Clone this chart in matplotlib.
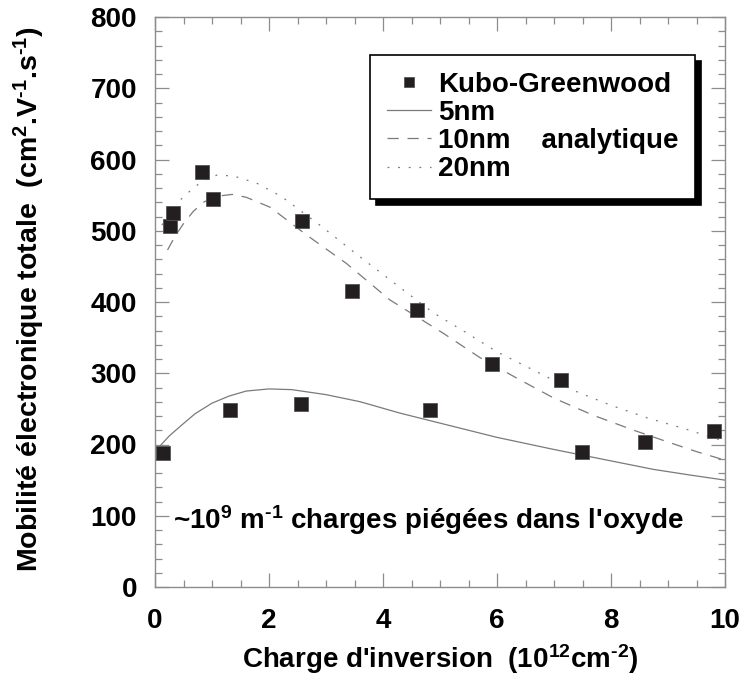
import matplotlib
matplotlib.use("Agg")
import matplotlib.pyplot as plt
from matplotlib.ticker import MultipleLocator

plt.rcParams['font.family'] = ['Liberation Sans', 'DejaVu Sans']
plt.rcParams['font.weight'] = 'bold'
plt.rcParams['mathtext.fontset'] = 'custom'
plt.rcParams['mathtext.rm'] = 'Liberation Sans:bold'
plt.rcParams['mathtext.it'] = 'Liberation Sans:bold:italic'
plt.rcParams['mathtext.bf'] = 'Liberation Sans:bold'
plt.rcParams['mathtext.default'] = 'rm'

# Kubo-Greenwood computed mobility
kg_q = [0.14, 0.26, 0.31, 0.83, 1.01, 2.58, 3.46, 4.60, 1.32, 2.57, 4.83,
        5.91, 7.12, 7.49, 8.60, 9.80]
kg_mu = [188, 507, 525, 583, 545, 514, 415, 389, 248, 257, 248,
         313, 291, 189, 203, 219]

# Analytical model, 5 nm
q_5 = [0.10, 0.25, 0.45, 0.70, 1.00, 1.30, 1.60, 2.00, 2.40, 3.00, 3.60,
       4.30, 5.20, 6.00, 7.00, 8.00, 8.75, 9.40, 10.0]
mu_5 = [199, 212, 226, 243, 258, 268, 275, 278, 277, 270, 260,
        244, 226, 210, 193, 177, 165, 157, 150]

# Analytical model, 10 nm
q_10 = [0.22, 0.35, 0.50, 0.67, 0.85, 1.05, 1.35, 1.60, 2.02, 2.66, 3.36,
        4.12, 5.06, 5.70, 6.35, 7.00, 7.69, 8.40, 8.98, 9.50, 10.0]
mu_10 = [473, 492, 510, 527, 540, 548, 551, 547, 533, 494, 454,
         403, 356, 322, 293, 265, 241, 220, 204, 190, 178]

# Analytical model, 20 nm
q_20 = [0.12, 0.25, 0.44, 0.70, 0.90, 1.08, 1.37, 1.78, 2.22, 2.89, 3.57,
        4.24, 4.88, 5.50, 6.00, 6.70, 7.34, 8.00, 8.65, 9.30, 9.80, 10.0]
mu_20 = [508, 522, 543, 562, 572, 578, 577, 567, 548, 508, 465,
         424, 385, 355, 330, 302, 276, 255, 237, 222, 209, 205]

fig = plt.figure(figsize=(7.42, 6.80), dpi=100)
ax = fig.add_axes([155/742, 1 - 587/680, 570/742, 570/680])

curve_color = '#7a7a7a'
ax.plot(q_5, mu_5, color=curve_color, lw=0.9, ls='-', label='5nm')
ax.plot(q_10, mu_10, color=curve_color, lw=0.9, ls=(0, (9, 7)), label='10nm    analytique')
ax.plot(q_20, mu_20, color=curve_color, lw=0.9, ls=(0, (1.5, 7)), label='20nm')
ax.plot(kg_q, kg_mu, ls='none', marker='s', ms=9.5, color='#231f20',
        mec='#555555', mew=0.6, label='Kubo-Greenwood', zorder=5)

ax.set_xlim(0, 10)
ax.set_ylim(0, 800)
ax.xaxis.set_major_locator(MultipleLocator(2))
ax.xaxis.set_minor_locator(MultipleLocator(0.5))
ax.yaxis.set_major_locator(MultipleLocator(100))
ax.yaxis.set_minor_locator(MultipleLocator(20))
spine_color = '#8c8c8c'
for s in ax.spines.values():
    s.set_color(spine_color)
    s.set_linewidth(1.0)
ax.tick_params(which='both', direction='in', top=True, right=True,
               color=spine_color, width=0.9)
ax.tick_params(which='major', length=10, labelsize=20)
ax.tick_params(axis='x', which='major', pad=15)
ax.tick_params(axis='y', which='major', pad=13)
ax.tick_params(which='minor', length=5)
for lab in ax.get_xticklabels() + ax.get_yticklabels():
    lab.set_fontweight('bold')

ax.set_xlabel(r"Charge d'inversion  (10$^{12}$cm$^{\text{-}2}$)", fontsize=20,
              fontweight='bold', labelpad=6)
ax.set_ylabel(r"Mobilité électronique totale  (cm$^{2}$.V$^{\text{-}1}$.s$^{\text{-}1}$)",
              fontsize=20.5, fontweight='bold')
ax.yaxis.set_label_coords(-0.19, 0.505)

ax.text(0.32, 94, r"~10$^{9}$ m$^{\text{-}1}$ charges piégées dans l'oxyde",
        fontsize=20, fontweight='bold', va='center', ha='left')

handles, labels = ax.get_legend_handles_labels()
order = [3, 0, 1, 2]
leg = ax.legend([handles[i] for i in order], [labels[i] for i in order],
                loc='upper left', bbox_to_anchor=(370/742, 1 - 55/680),
                bbox_transform=fig.transFigure, prop={'size': 20, 'weight': 'bold'},
                frameon=True, fancybox=False, edgecolor='black',
                shadow={'color': 'black', 'alpha': 1, 'ox': 4, 'oy': -4},
                handlelength=1.6, handletextpad=0.25, labelspacing=0.08,
                borderpad=0.6, borderaxespad=0, markerscale=0.8)
leg.get_frame().set_linewidth(1.2)

fig.savefig('out.png', dpi=100)
